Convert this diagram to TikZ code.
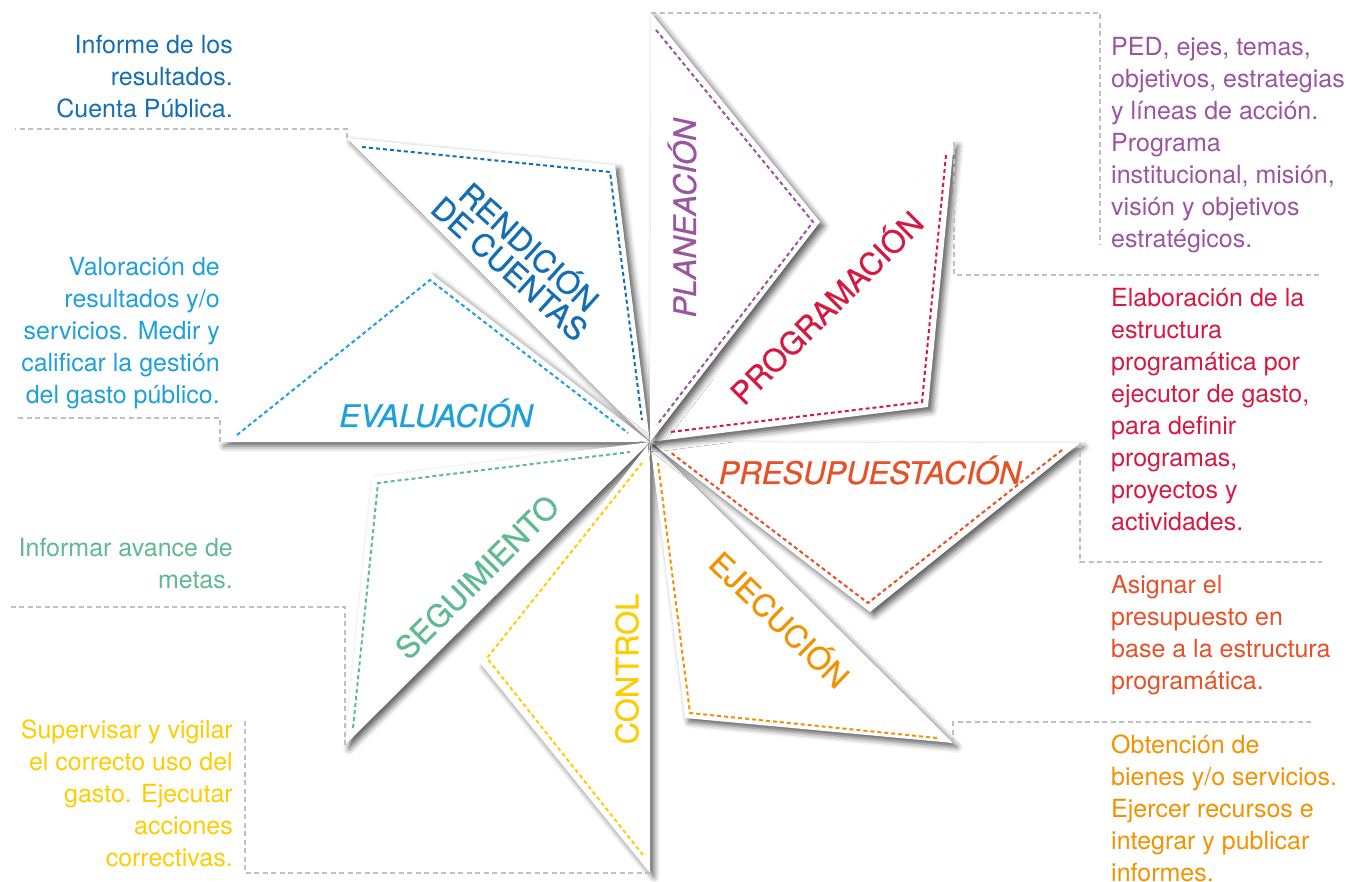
\documentclass[tikz,border=0pt]{standalone}
\usepackage{fontspec}
\setmainfont{TeX Gyre Heros}
\newfontfamily\petalfont{TeX Gyre Heros}[FakeBold=0.7]
\usetikzlibrary{shadows.blur}

\definecolor{cren}{RGB}{20,110,180}
\definecolor{ceva}{RGB}{30,160,220}
\definecolor{cseg}{RGB}{95,185,145}
\definecolor{ccon}{RGB}{255,204,0}
\definecolor{ceje}{RGB}{243,146,0}
\definecolor{cpre}{RGB}{232,80,40}
\definecolor{cpro}{RGB}{215,25,65}
\definecolor{cpla}{RGB}{155,85,160}

\begin{document}
\begin{tikzpicture}[x=1pt, y=-1pt]
	\tikzset{
	    petal/.style= {fill=white, blur shadow={shadow xshift=4pt, shadow yshift=-4pt, shadow blur radius=6pt, shadow opacity=65}},
	    pdash/.style= {dash pattern=on 4pt off 3pt, line width=2pt},
	    lead/.style= {draw=black!25, line width=1.6pt, dash pattern=on 5pt off 3.5pt},
	    plabel/.style= {font=\petalfont\fontsize{31}{29}\selectfont, inner sep=0pt, align=center},
	    ilabel/.style= {plabel, font=\petalfont\fontsize{31}{29}\selectfont\itshape},
	    rtext/.style= {font=\fontsize{25}{32}\selectfont, inner sep=0pt, align=right, anchor=north east},
	    ltext/.style= {font=\fontsize{25}{32}\selectfont, inner sep=0pt, align=left, anchor=north west},
	}
	\useasboundingbox (0,0) rectangle (1367,882);
	
	\coordinate (c) at (650,442);
	\coordinate (pla1) at (651,13);   \coordinate (pla2) at (820,222);
	\coordinate (pro1) at (954,142);  \coordinate (pro2) at (928,407);
	\coordinate (pre1) at (1080,443); \coordinate (pre2) at (870,612);
	\coordinate (eje1) at (953,743);  \coordinate (eje2) at (685,718);
	\coordinate (con1) at (650,873);  \coordinate (con2) at (480,663);
	\coordinate (seg1) at (345,745);  \coordinate (seg2) at (372,477);
	\coordinate (eva1) at (220,442);  \coordinate (eva2) at (430,273);
	\coordinate (ren1) at (347,138);  \coordinate (ren2) at (615,165);
	
	% petals
	\fill[petal] (c) -- (ren1) -- (ren2) -- cycle;
	\fill[petal] (c) -- (eva1) -- (eva2) -- cycle;
	\fill[petal] (c) -- (seg1) -- (seg2) -- cycle;
	\fill[petal] (c) -- (con1) -- (con2) -- cycle;
	\fill[petal] (c) -- (eje1) -- (eje2) -- cycle;
	\fill[petal] (c) -- (pre1) -- (pre2) -- cycle;
	\fill[petal] (c) -- (pro1) -- (pro2) -- cycle;
	\fill[petal] (c) -- (pla1) -- (pla2) -- cycle;
	
	\draw[pdash, cpla] (656,30) -- (813,222) -- (657,425);
	\draw[pdash, cpro] (946,155) -- (922,402) -- (670,432);
	\draw[pdash, cpre] (1062,450) -- (868,603) -- (670,452);
	\draw[pdash, ceje] (937,738) -- (690,713) -- (658,463);
	\draw[pdash, ccon] (643,855) -- (487,658) -- (642,463);
	\draw[pdash, cseg] (353,728) -- (378,483) -- (630,452);
	\draw[pdash, ceva] (237,435) -- (430,280) -- (628,433);
	\draw[pdash, cren] (362,147) -- (610,172) -- (642,420);
	
	\node[ilabel, cpla, rotate=90] (pla) at (682,218) {PLANEACIÓN};
	\node[plabel, cpro, rotate=45] (pro) at (825,306) {PROGRAMACIÓN};
	\node[ilabel, cpre] (pre) at (870,470) {PRESUPUESTACIÓN};
	\node[plabel, ceje, rotate=-44] (eje) at (781,618) {EJECUCIÓN};
	\node[plabel, ccon, rotate=90] (con) at (627,669) {CONTROL};
	\node[plabel, cseg, rotate=45] (seg) at (477,577) {SEGUIMIENTO};
	\node[ilabel, ceva] (eva) at (436,413) {EVALUACIÓN};
	\node[plabel, cren, rotate=-42] (ren) at (521,256) {RENDICIÓN\\DE CUENTAS};
	
	% descriptions
	\node[rtext, cren] (tren) at (233,35) {Informe de los\\resultados.\\Cuenta Pública.};
	\node[rtext, ceva] (teva) at (220,257) {Valoración de\\resultados y/o\\servicios. Medir y\\calificar la gestión\\del gasto público.};
	\node[rtext, cseg] (tseg) at (233,538) {Informar avance de\\metas.};
	\node[rtext, ccon] (tcon) at (233,720) {Supervisar y vigilar\\el correcto uso del\\gasto. Ejecutar\\acciones\\correctivas.};
	\node[ltext, cpla] (tpla) at (1111,37) {PED, ejes, temas,\\objetivos, estrategias\\y líneas de acción.\\Programa\\institucional, misión,\\visión y objetivos\\estratégicos.};
	\node[ltext, cpro] (tpro) at (1111,288) {Elaboración de la\\estructura\\programática por\\ejecutor de gasto,\\para definir\\programas,\\proyectos y\\actividades.};
	\node[ltext, cpre] (tpre) at (1111,575) {Asignar el\\presupuesto en\\base a la estructura\\programática.};
	\node[ltext, ceje] (teje) at (1111,735) {Obtención de\\bienes y/o servicios.\\Ejercer recursos e\\integrar y publicar\\informes.};
	
	% leaders
	\coordinate (lpla) at (1100,245);
	\coordinate (lpro) at (1322,275);
	\coordinate (lpre) at (1322,562);
	\coordinate (leje) at (1313,722);
	\coordinate (lcon) at (245,717);
	\coordinate (lseg) at (8,607);
	\coordinate (leva) at (15,418);
	\coordinate (lren) at (15,129);
	\draw[lead] (pla1) -| (lpla);
	\draw[lead] (pro1) |- (lpro);
	\draw[lead] (pre1) |- (lpre);
	\draw[lead] (eje1) |- (leje);
	\draw[lead] (con1) -| (lcon);
	\draw[lead] (seg1) |- (lseg);
	\draw[lead] (eva1) |- (leva);
	\draw[lead] (ren1) |- (lren);
\end{tikzpicture}
\end{document}
